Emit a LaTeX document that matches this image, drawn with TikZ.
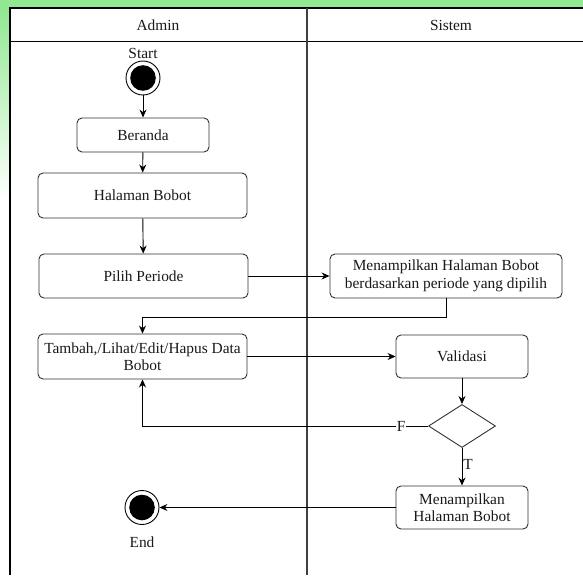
\documentclass[tikz,border=0pt]{standalone}
\usepackage{fontspec}
\setmainfont{Liberation Serif}
\usetikzlibrary{arrows.meta,shapes.geometric}
\definecolor{bggreen}{RGB}{145,232,145}
\definecolor{txt}{RGB}{25,25,25}
\definecolor{boxline}{RGB}{50,50,50}
\begin{document}
\begin{tikzpicture}[x=1pt,y=-1pt,
  act/.style={draw=boxline, rounded corners=5pt, line width=0.9pt, fill=white, align=center, inner sep=0pt, text=txt, font=\fontsize{15.4}{17.5}\selectfont},
  dec/.style={draw=boxline, diamond, line width=0.9pt, fill=white, inner sep=0pt, minimum width=67pt, minimum height=43pt},
  term/.style={draw=black, circle, line width=0.9pt, fill=white, minimum size=34pt, inner sep=0pt,
    path picture={\fill[black] (path picture bounding box.center) circle (12.8pt);}},
  lbl/.style={text=txt, font=\fontsize{15.4}{17.5}\selectfont, inner sep=1pt},
  flow/.style={line width=0.9pt, draw=black, -{Stealth[length=8pt,width=7pt]}},
  frame/.style={line width=1.6pt, draw=black}]
\useasboundingbox (0,0) rectangle (583,575);
\fill[white] (0,0) rectangle (583,575);
\fill[bggreen] (0,0) rectangle (583,8);
\shade[top color=bggreen, bottom color=white] (0,8) rectangle (10,200);

% frame
\draw[frame] (10,575) -- (10,8) -- (583,8);
\draw[frame] (10,41.7) -- (583,41.7);
\draw[line width=1.6pt, draw=black!75] (307,8) -- (307,575);
\node[lbl] (hadmin) at (158,25) {Admin};
\node[lbl] (hsistem) at (451,25) {Sistem};

% nodes
\node[lbl] (starttxt) at (143,53) {Start};
\node[term] (start) at (143,78) {};
\node[act, minimum width=132pt, minimum height=34pt] (beranda) at (143,135) {Beranda};
\node[act, minimum width=209pt, minimum height=45pt] (halaman) at (142.5,195.5) {Halaman Bobot};
\node[act, minimum width=209pt, minimum height=44pt] (pilih) at (143.5,276) {Pilih Periode};
\node[act, minimum width=232pt, minimum height=44pt] (tampil1) at (446,276) {Menampilkan Halaman Bobot\\berdasarkan periode yang dipilih};
\node[act, minimum width=209pt, minimum height=45pt] (tambah) at (142.5,356.5) {Tambah,/Lihat/Edit/Hapus Data\\Bobot};
\node[act, minimum width=132pt, minimum height=43pt] (validasi) at (462,356.5) {Validasi};
\node[dec] (cek) at (462,426) {};
\node[act, minimum width=132pt, minimum height=43pt] (tampil2) at (462,507.5) {Menampilkan\\Halaman Bobot};
\node[term] (end) at (142,507.5) {};
\node[lbl] (endtxt) at (142,542) {End};

% connectors
\draw[flow] (start) -- (beranda);
\draw[flow] (beranda) -- (halaman);
\draw[flow] (halaman) -- (pilih);
\draw[flow] (pilih) -- (tampil1);
\coordinate (turn1) at (142.5,317);
\draw[flow] (tampil1.south) |- (turn1) -- (tambah.north);
\draw[flow] (tambah) -- (validasi);
\draw[flow] (validasi) -- (cek);
\coordinate (fturn) at (142.5,426);
\draw[flow] (cek.west) -- node[lbl, fill=white, pos=0.094] {F} (fturn) -- (tambah.south);
\draw[flow] (cek.south) -- node[lbl, right, pos=0.45] {T} (tampil2.north);
\draw[flow] (tampil2.west) -- (end.east);
\end{tikzpicture}
\end{document}
